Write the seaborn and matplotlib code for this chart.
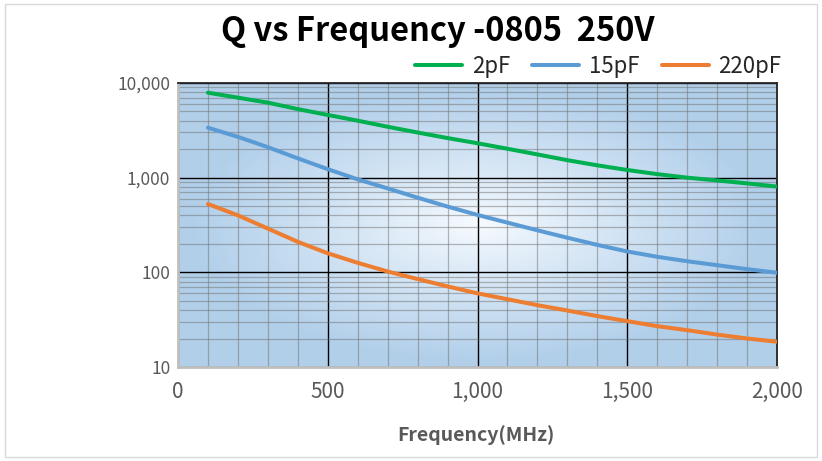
import numpy as np
import pandas as pd
import matplotlib
matplotlib.use("Agg")
import matplotlib.pyplot as plt
import matplotlib.ticker as mticker
from matplotlib.patches import Rectangle
import seaborn as sns

# Frequency points (MHz)
freq = [100, 200, 300, 400, 500, 600, 700, 800, 900, 1000,
        1100, 1200, 1300, 1400, 1500, 1600, 1700, 1800, 1900, 2000]

# Q values
q_2pf = [7900, 7000, 6200, 5300, 4600, 4000, 3450, 3000, 2620, 2310,
         2020, 1760, 1530, 1350, 1205, 1090, 1000, 935, 870, 805]
q_15pf = [3370, 2700, 2100, 1600, 1230, 960, 770, 615, 495, 404,
          335, 278, 232, 195, 166, 146, 131, 119, 108, 99]
q_220pf = [527, 400, 290, 210, 159, 126, 102, 85, 71, 60,
           52, 45, 39.5, 34.5, 30.5, 27, 24.5, 22, 20, 18.5]

series_names = ["2pF", "15pF", "220pF"]
series_colors = ["#00b050", "#5b9bd5", "#ed7d31"]

df = pd.DataFrame({
    "freq": freq * 3,
    "Q": q_2pf + q_15pf + q_220pf,
    "series": [s for s in series_names for _ in freq],
})

sns.set_style("white")
plt.rcParams["font.family"] = ["Noto Sans CJK SC", "DejaVu Sans"]

fig = plt.figure(figsize=(8.22, 4.61), dpi=100)
ax = fig.add_axes([178 / 822, 1 - 367 / 461, (777 - 178) / 822, (367 - 83) / 461])

# radial gradient background (light centre, blue edges)
gx, gy = np.meshgrid(np.linspace(-1, 1, 300), np.linspace(-1, 1, 200))
r = np.sqrt(gx ** 2 + gy ** 2)
t = np.clip(r / 0.95, 0, 1) ** 0.9
c_in = np.array([0.97, 0.985, 1.0])
c_out = np.array([0.70, 0.815, 0.92])
img = c_in[None, None, :] * (1 - t[..., None]) + c_out[None, None, :] * t[..., None]
ax.imshow(img, extent=[0, 1, 0, 1], transform=ax.transAxes, aspect="auto",
          zorder=0, interpolation="bilinear")

sns.lineplot(data=df, x="freq", y="Q", hue="series", palette=series_colors,
             linewidth=2.9, ax=ax, legend=False, zorder=3)

ax.set_yscale("log")
ax.set_xlim(0, 2000)
ax.set_ylim(10, 10000)
ax.set_xticks([0, 500, 1000, 1500, 2000])
ax.xaxis.set_minor_locator(mticker.MultipleLocator(100))
ax.yaxis.set_major_locator(mticker.LogLocator(base=10, numticks=10))
ax.yaxis.set_minor_locator(mticker.LogLocator(base=10, subs=np.arange(2, 10), numticks=20))
ax.yaxis.set_minor_formatter(mticker.NullFormatter())
fmt = mticker.FuncFormatter(lambda v, p: f"{v:,.0f}")
ax.xaxis.set_major_formatter(fmt)
ax.yaxis.set_major_formatter(fmt)

ax.grid(which="major", color="#000000", linewidth=1.0)
ax.grid(which="minor", color="#707070", linewidth=0.9, alpha=0.5)

ax.tick_params(axis="both", which="major", length=5, color="#bfbfbf", width=1.5,
               labelcolor="#595959", direction="out")
ax.tick_params(axis="x", which="major", pad=5, labelsize=15)
ax.tick_params(axis="y", which="major", pad=0.5, labelsize=12.5)
ax.tick_params(axis="both", which="minor", length=0)
for side in ["left", "bottom"]:
    ax.spines[side].set_color("#bfbfbf")
    ax.spines[side].set_linewidth(2)
for side in ["top", "right"]:
    ax.spines[side].set_color("#262626")
    ax.spines[side].set_linewidth(1.3)
ax.set_xlabel("")
ax.set_ylabel("")

# legend
handles = [plt.Line2D([], [], color=c, linewidth=2.9) for c in series_colors]
fig.legend(handles, series_names, loc="center", bbox_to_anchor=(0.728, 1 - 66 / 461),
           ncol=3, frameon=False, fontsize=16, handlelength=2.1, handletextpad=0.45,
           columnspacing=1.0, labelcolor="#262626")

fig.text(438 / 822, 1 - 31 / 461, "Q vs Frequency -0805  250V", ha="center", va="center",
         fontsize=23.5, fontweight="bold", color="#000000")
fig.text(476 / 822, 1 - 435 / 461, "Frequency(MHz)", ha="center", va="center",
         fontsize=14, fontweight="bold", color="#595959")

fig.patches.append(Rectangle((0.006, 0.008), 0.988, 0.984, transform=fig.transFigure,
                             fill=False, edgecolor="#d9d9d9", linewidth=1))

fig.savefig("out.png", dpi=100)
